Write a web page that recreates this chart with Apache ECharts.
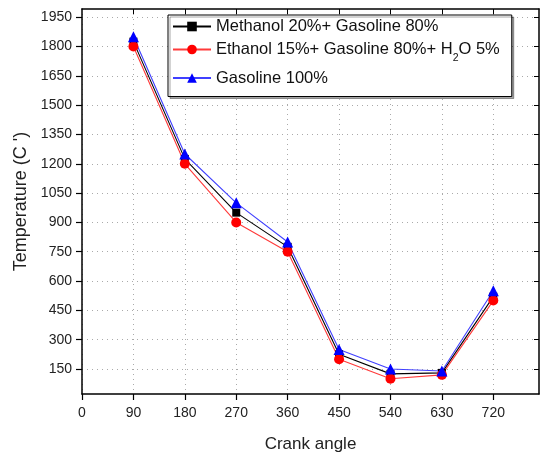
<!DOCTYPE html>
<html><head><meta charset="utf-8">
<script src="https://cdn.jsdelivr.net/npm/echarts@6/dist/echarts.min.js"></script>
<style>html,body{margin:0;padding:0;background:#fff}#c{width:541px;height:454px}</style>
</head><body><div id="c"></div>
<script>
const crankAngles = [90, 180, 270, 360, 450, 540, 630, 720];
const methanol = [1825, 1225, 950, 775, 225, 125, 130, 520];
const ethanol = [1800, 1200, 900, 750, 200, 100, 120, 500];
const gasoline = [1850, 1250, 1000, 800, 250, 150, 140, 550];
const seriesNames = ['Methanol 20%+ Gasoline 80%', 'Ethanol 15%+ Gasoline 80%+ H2O 5%', 'Gasoline 100%'];
const yTicks = [150, 300, 450, 600, 750, 900, 1050, 1200, 1350, 1500, 1650, 1800, 1950];
const xTicks = [0, 90, 180, 270, 360, 450, 540, 630, 720];

const pair = (arr) => crankAngles.map((x, i) => [x, arr[i]]);
const font = 'Liberation Sans, Arial, sans-serif';
const chart = echarts.init(document.getElementById('c'));
const gridLine = {show: true, lineStyle: {color: '#aaa', width: 1, type: [1, 4]}};
chart.setOption({
  animation: false,
  grid: {left: 82, right: 2, top: 9, bottom: 60, outerBoundsMode: 'none', containLabel: false},
  legend: {
    orient: 'vertical', left: 168, top: 15,
    itemWidth: 38, itemHeight: 12, itemGap: 6,
    padding: [3, 12, 10, 4],
    borderColor: '#000', borderWidth: 1,
    backgroundColor: '#fff',
    shadowColor: 'rgba(0,0,0,0.35)', shadowOffsetX: 2, shadowOffsetY: 2, shadowBlur: 0,
    textStyle: {fontSize: 16.5, color: '#111', fontFamily: font,
      rich: {sub: {fontSize: 10.5, padding: [17, 0, 0, 0], fontFamily: font, color: '#111'}}},
    formatter: (n) => n.replace('H2O', 'H{sub|2}O'),
    data: seriesNames
  },
  xAxis: [{
    type: 'value', min: 0, max: 800,
    name: 'Crank angle', nameLocation: 'middle', nameGap: 42,
    nameTextStyle: {fontSize: 17, color: '#222', fontFamily: font},
    axisLine: {onZero: false, lineStyle: {color: '#000', width: 1.5}},
    axisTick: {inside: false, length: 6, lineStyle: {color: '#000', width: 1.2}, customValues: xTicks},
    axisLabel: {fontSize: 14, color: '#222', fontFamily: font, margin: 12, customValues: xTicks},
    splitLine: gridLine
  }, {
    type: 'value', min: 0, max: 800, position: 'top',
    axisLine: {show: true, onZero: false, lineStyle: {color: '#000', width: 1.5}},
    axisTick: {inside: true, length: 5, lineStyle: {color: '#000', width: 1}, customValues: xTicks.slice(1)},
    axisLabel: {show: false}, splitLine: {show: false}
  }],
  yAxis: [{
    type: 'value', min: 22, max: 1992,
    name: "Temperature (C ')", nameLocation: 'middle', nameGap: 51,
    nameTextStyle: {fontSize: 18, color: '#222', fontFamily: font},
    axisLine: {show: true, onZero: false, lineStyle: {color: '#000', width: 1.5}},
    axisTick: {show: true, length: 6, lineStyle: {color: '#000', width: 1.2}, customValues: yTicks},
    axisLabel: {fontSize: 14, color: '#222', fontFamily: font, margin: 10, customValues: yTicks,
      formatter: (v) => String(v)},
    splitLine: gridLine
  }, {
    type: 'value', min: 22, max: 1992, position: 'right',
    axisLine: {show: true, onZero: false, lineStyle: {color: '#000', width: 1.5}},
    axisTick: {show: true, inside: true, length: 5, lineStyle: {color: '#000', width: 1}, customValues: yTicks},
    axisLabel: {show: false}, splitLine: {show: false}
  }],
  series: [
    {name: seriesNames[0], type: 'line', data: pair(methanol), color: '#000',
     symbol: 'rect', symbolSize: 8, lineStyle: {width: 1.1}, itemStyle: {color: '#000'}},
    {name: seriesNames[1], type: 'line', data: pair(ethanol), color: '#ff0000',
     symbol: 'circle', symbolSize: 10, lineStyle: {width: 1.1, color: '#ff3a3a'}, itemStyle: {color: '#ff0000'}},
    {name: seriesNames[2], type: 'line', data: pair(gasoline), color: '#0000ff',
     symbol: 'triangle', symbolSize: 11, lineStyle: {width: 1.1, color: '#4040ff'}, itemStyle: {color: '#0000ff'}}
  ]
});
</script></body></html>
